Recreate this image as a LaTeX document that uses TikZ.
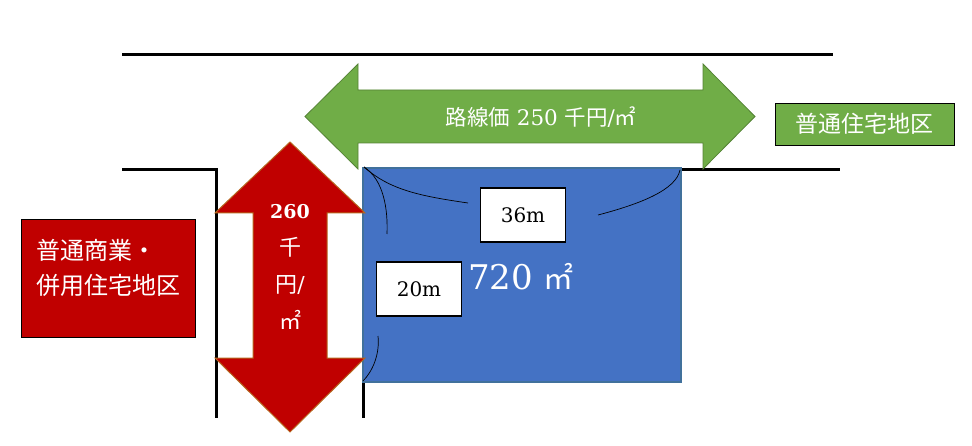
\documentclass[tikz,border=0pt]{standalone}
\usepackage{fontspec}
\setmainfont{DejaVu Serif}
\newfontfamily\cjk{Noto Sans CJK JP}
\usetikzlibrary{positioning}
\definecolor{LotBlue}{HTML}{4472C4}
\definecolor{LotEdge}{HTML}{41719C}
\definecolor{GrassGreen}{HTML}{70AD47}
\definecolor{GreenEdge}{HTML}{548235}
\definecolor{ZoneRed}{HTML}{C00000}
\definecolor{RedEdge}{HTML}{B5651D}

\begin{document}
\begin{tikzpicture}[x=1pt, y=-1pt, every node/.style={align=center},
    road/.style={line width=3pt},
    dimarc/.style={line width=0.7pt},
    dimbox/.style={draw=black, line width=1.5pt, fill=white, minimum width=85pt, minimum height=54pt, font=\fontsize{20}{24}\selectfont},
    zonebox/.style={draw=black, line width=0.8pt}]
\useasboundingbox (0,0) rectangle (972,446);
% roads
\draw[road] (122,55) -- (833,55);
\draw[road] (122,170) -- (216,170) -- (216,418);
\draw[road] (363,170) -- (363,418);
\draw[road] (680,170) -- (840,170);
% lot
\draw[fill=LotBlue, draw=LotEdge, line width=1.5pt] (363,168) rectangle (681,382);
\draw[dimarc] (364,167) .. controls (390,190) and (420,196) .. (468,203);
\draw[dimarc] (364,167) .. controls (384,180) and (388,210) .. (387,234);
\draw[dimarc] (680,170) .. controls (676,190) and (640,204) .. (598,215);
\draw[dimarc] (378,336) .. controls (380,355) and (372,372) .. (363,381);
\node[dimbox] (width) at (523,215) {36m};
\node[dimbox] (depth) at (419,289) {20m};
\node[text=white, font=\fontsize{34}{38}\selectfont] (area) at (521,277) {720 {\cjk\fontsize{30}{32}\selectfont ㎡}};
% street arrows
\draw[fill=GrassGreen, draw=GreenEdge, line width=0.8pt]
  (305,116.5) -- (358,64) -- (358,90) -- (703,90) -- (703,64) -- (755,116.5)
  -- (703,169) -- (703,143) -- (358,143) -- (358,169) -- cycle;
\node[text=white, font=\fontsize{21.5}{24}\selectfont] (mainprice) at (541,117) {{\cjk 路線価} 250 {\cjk 千円}/{\cjk ㎡}};
\draw[fill=ZoneRed, draw=RedEdge, line width=1pt]
  (290,142) -- (365,213) -- (327,213) -- (327,358) -- (365,358) -- (290,432)
  -- (215,358) -- (253,358) -- (253,213) -- (215,213) -- cycle;
\node[text=white, font=\fontsize{22}{37}\selectfont] (sideprice) at (290,267) {{\fontsize{19}{37}\selectfont\textbf{260}}\\{\cjk 千}\\{\cjk 円}/\\{\cjk ㎡}};
% districts
\node[zonebox, fill=ZoneRed, minimum width=174pt, minimum height=118pt] (commzone) at (108,278) {};
\node[text=white, align=left, anchor=west, font=\fontsize{24}{35}\selectfont\cjk] (commlabel) at (33,268) {普通商業・\\併用住宅地区};
\node[zonebox, fill=GrassGreen, minimum width=179pt, minimum height=42pt, text=white, font=\fontsize{23}{26}\selectfont\cjk] (homezone) at (864.5,124) {普通住宅地区};
\end{tikzpicture}
\end{document}
